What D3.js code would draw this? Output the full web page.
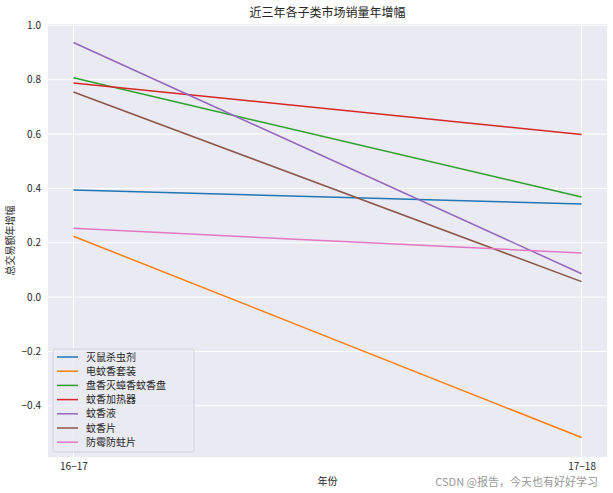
<!DOCTYPE html>
<html><head><meta charset="utf-8">
<script src="https://cdn.jsdelivr.net/npm/d3@7"></script>
<style>body{margin:0;background:#fff;} text{font-family:"Noto Sans CJK SC","DejaVu Sans",sans-serif;}</style>
</head><body><svg id="c" width="613" height="493"></svg>
<script>
const years = ["16-17", "17-18"];
const seriesNames = ["灭鼠杀虫剂", "电蚊香套装", "盘香灭蟑香蚊香盘", "蚊香加热器", "蚊香液", "蚊香片", "防霉防蛀片"];
const seriesValues = [
  [0.394, 0.343],
  [0.224, -0.517],
  [0.807, 0.368],
  [0.788, 0.598],
  [0.937, 0.086],
  [0.755, 0.057],
  [0.253, 0.162]
];
const colors = ["#1f77b4", "#ff7f0e", "#2ca02c", "#d62728", "#9467bd", "#8c564b", "#e377c2"];
const yTicks = [-0.4, -0.2, 0.0, 0.2, 0.4, 0.6, 0.8, 1.0];

const svg = d3.select("#c");
const L = 48, R = 607, T = 24, B = 457;
const x = d3.scaleLinear().domain([-0.05, 1.05]).range([L, R]);
const y = d3.scaleLinear().domain([-0.5885, 1.005]).range([B, T]);

svg.append("rect").attr("x", L).attr("y", T).attr("width", R - L).attr("height", B - T).attr("fill", "#EAEAF2");

// grid
svg.append("g").selectAll("line").data(yTicks).join("line")
  .attr("x1", L).attr("x2", R).attr("y1", d => y(d)).attr("y2", d => y(d))
  .attr("stroke", "#fff").attr("stroke-width", 1);
svg.append("g").selectAll("line").data(years).join("line")
  .attr("y1", T).attr("y2", B).attr("x1", (d, i) => x(i)).attr("x2", (d, i) => x(i))
  .attr("stroke", "#fff").attr("stroke-width", 1);

// axes
const yAxis = d3.axisLeft(y).tickValues(yTicks).tickSize(0).tickPadding(7)
  .tickFormat(d => d3.format(".1f")(d).replace("-", "\u2212"));
const gy = svg.append("g").attr("transform", `translate(${L},0)`).call(yAxis);
gy.select(".domain").remove();
gy.selectAll("text").attr("font-size", 10).attr("fill", "#262626");

const xAxis = d3.axisBottom(x).tickValues([0, 1]).tickSize(0).tickPadding(6)
  .tickFormat((d, i) => years[i].replace("-", "\u2212"));
const gx = svg.append("g").attr("transform", `translate(0,${B})`).call(xAxis);
gx.select(".domain").remove();
gx.selectAll("text").attr("font-size", 10).attr("fill", "#262626");

// lines
const line = d3.line().x((d, i) => x(i)).y(d => y(d));
svg.append("g").selectAll("path").data(seriesValues).join("path")
  .attr("d", d => line(d)).attr("fill", "none")
  .attr("stroke", (d, i) => colors[i]).attr("stroke-width", 1.5);

// title & labels
svg.append("text").attr("x", (L + R) / 2).attr("y", 17).attr("text-anchor", "middle")
  .attr("font-size", 12).attr("fill", "#262626").text("近三年各子类市场销量年增幅");
svg.append("text").attr("x", (L + R) / 2).attr("y", 485).attr("text-anchor", "middle")
  .attr("font-size", 10).attr("fill", "#262626").text("年份");
svg.append("text").attr("transform", `translate(14,${(T + B) / 2}) rotate(-90)`).attr("text-anchor", "middle")
  .attr("font-size", 10).attr("fill", "#262626").text("总交易额年增幅");

// legend
const lg = svg.append("g").attr("transform", "translate(53,349)");
lg.append("rect").attr("x", 0).attr("y", 0).attr("width", 141).attr("height", 103).attr("rx", 2)
  .attr("fill", "#EAEAF2").attr("fill-opacity", 0.8).attr("stroke", "#ccc").attr("stroke-width", 0.8);
seriesNames.forEach((n, i) => {
  const yy = 8 + i * 14.2;
  lg.append("line").attr("x1", 4).attr("x2", 25).attr("y1", yy).attr("y2", yy)
    .attr("stroke", colors[i]).attr("stroke-width", 1.5);
  lg.append("text").attr("x", 33).attr("y", yy + 3.6).attr("font-size", 10).attr("fill", "#262626").text(n);
});

// watermark
svg.append("text").attr("x", 598).attr("y", 486).attr("text-anchor", "end")
  .attr("font-size", 11).attr("fill", "#999").text("CSDN @报告，今天也有好好学习");
</script></body></html>
